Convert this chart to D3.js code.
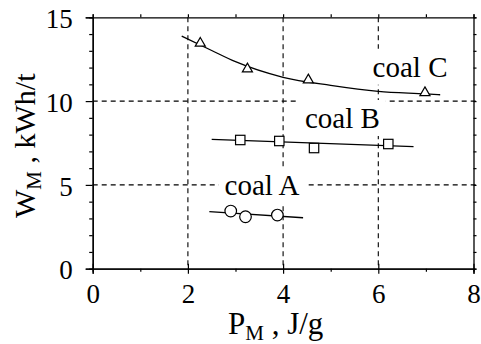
<!DOCTYPE html>
<html>
<head>
<meta charset="utf-8">
<script src="https://cdn.jsdelivr.net/npm/d3@7"></script>
<style>
  html, body { margin: 0; padding: 0; background: #fff; }
  svg { display: block; }
  svg text { font-family: "Liberation Serif", "Times New Roman", serif; fill: #000; }
</style>
</head>
<body>
<svg id="chart" width="481" height="344"></svg>
<script>
// Grinding energy W_M versus specific power P_M for three coals
const xTicks = [0, 2, 4, 6, 8];
const yTicks = [0, 5, 10, 15];
const xGrid = [2, 4, 6];
const yGrid = [5, 10];

// measured points
const coalA_P = [2.90, 3.21, 3.88];
const coalA_W = [3.44, 3.10, 3.20];
const coalB_P = [3.10, 3.92, 4.65, 6.21];
const coalB_W = [7.68, 7.62, 7.20, 7.44];
const coalC_P = [2.26, 3.25, 4.53, 6.98];
const coalC_W = [13.45, 11.92, 11.26, 10.50];

// fitted trend lines
const fitA_P = [2.45, 4.42];
const fitA_W = [3.40, 3.04];
const fitB_P = [2.50, 6.74];
const fitB_W = [7.72, 7.28];
const fitC_P = [1.87, 2.5, 3, 4, 5, 6, 7, 7.3];
const fitC_W = [13.88, 13.02, 12.35, 11.42, 10.94, 10.58, 10.43, 10.38];

const labels = ["coal A", "coal B", "coal C"];
const labelP = [2.77, 4.46, 5.88];
const labelW = [4.397, 8.395, 11.453];

const FONT = "Liberation Serif";
const svg = d3.select("#chart").attr("font-family", FONT);
const x = d3.scaleLinear().domain([0, 8]).range([92.7, 473.5]);
const y = d3.scaleLinear().domain([0, 15]).range([268.7, 17.3]);

// dashed grid
const grid = svg.append("g").attr("stroke", "#000").attr("stroke-width", 1.1)
  .attr("stroke-dasharray", "5,4").attr("fill", "none");
grid.selectAll("line.h").data(yGrid).join("line").attr("class", "h")
  .attr("x1", x(0)).attr("x2", x(8) + 5).attr("y1", d => y(d)).attr("y2", d => y(d));
grid.selectAll("line.v").data(xGrid).join("line").attr("class", "v")
  .attr("x1", d => x(d)).attr("x2", d => x(d)).attr("y1", y(15)).attr("y2", y(0));

// series labels on white boxes
const lab = svg.append("g");
labels.forEach((t, i) => {
  const g = lab.append("g");
  const rect = g.append("rect").attr("fill", "#fff");
  const txt = g.append("text").attr("x", x(labelP[i])).attr("y", y(labelW[i]))
    .attr("font-family", FONT).attr("font-size", 29).text(t);
  const b = txt.node().getBBox();
  rect.attr("x", b.x - 6).attr("y", b.y - 2).attr("width", b.width + 12).attr("height", b.height + 4);
});

// trend lines
const line = d3.line().x(d => x(d[0])).y(d => y(d[1]));
const curveLine = d3.line().x(d => x(d[0])).y(d => y(d[1])).curve(d3.curveMonotoneX);
const zip = (a, b) => a.map((v, i) => [v, b[i]]);
const lines = svg.append("g").attr("fill", "none").attr("stroke", "#000").attr("stroke-width", 1.3);
lines.append("path").attr("d", line(zip(fitA_P, fitA_W)));
lines.append("path").attr("d", line(zip(fitB_P, fitB_W)));
lines.append("path").attr("d", curveLine(zip(fitC_P, fitC_W)));

// markers
const marks = svg.append("g").attr("fill", "#fff").attr("stroke", "#000").attr("stroke-width", 1.2);
marks.selectAll("circle").data(zip(coalA_P, coalA_W)).join("circle")
  .attr("cx", d => x(d[0])).attr("cy", d => y(d[1])).attr("r", 5.8);
marks.selectAll("rect").data(zip(coalB_P, coalB_W)).join("rect")
  .attr("x", d => x(d[0]) - 4.7).attr("y", d => y(d[1]) - 4.7).attr("width", 9.4).attr("height", 9.4);
const tri = d3.symbol().type(d3.symbolTriangle).size(44);
marks.selectAll("path").data(zip(coalC_P, coalC_W)).join("path")
  .attr("transform", d => `translate(${x(d[0])},${y(d[1])})`).attr("d", tri);

// axes
const minorX = d3.range(0, 9).filter(v => !xTicks.includes(v));
const minorY = d3.range(0, 16).filter(v => !yTicks.includes(v));

function styleAxis(g) {
  g.attr("font-family", FONT);
  g.selectAll("path.domain").attr("stroke-width", 1.3);
  g.selectAll(".tick line").attr("stroke-width", 1.2);
}

const bottom = svg.append("g").attr("transform", `translate(0,${y(0)})`)
  .call(d3.axisBottom(x).tickValues(xTicks).tickSizeOuter(0).tickSize(5).tickPadding(10))
  .call(styleAxis);
bottom.selectAll(".tick line").attr("y1", -5);
bottom.selectAll(".tick text").attr("font-size", 27).attr("font-family", FONT);
svg.append("g").attr("transform", `translate(0,${y(0)})`)
  .call(d3.axisBottom(x).tickValues(minorX).tickSizeOuter(0).tickSize(3).tickFormat(""))
  .call(styleAxis);

const left = svg.append("g").attr("transform", `translate(${x(0)},0)`)
  .call(d3.axisLeft(y).tickValues(yTicks).tickSizeOuter(0).tickSize(7).tickPadding(13))
  .call(styleAxis);
left.selectAll(".tick text").attr("font-size", 27).attr("font-family", FONT).attr("dy", "0.38em");
svg.append("g").attr("transform", `translate(${x(0)},0)`)
  .call(d3.axisLeft(y).tickValues(minorY).tickSizeOuter(0).tickSize(3.5).tickFormat(""))
  .call(styleAxis);

svg.append("g").attr("transform", `translate(0,${y(15)})`)
  .call(d3.axisTop(x).tickValues(d3.range(0, 9)).tickSizeOuter(0).tickSize(3).tickFormat(""))
  .call(styleAxis);
svg.append("g").attr("transform", `translate(${x(8)},0)`)
  .call(d3.axisRight(y).tickValues(d3.range(0, 16)).tickSizeOuter(0).tickSize(3).tickFormat(""))
  .call(styleAxis);

svg.selectAll(".domain, .tick line").attr("stroke", "#000");
svg.selectAll(".tick text").attr("fill", "#000");

// axis titles
const xt = svg.append("text").attr("x", 228).attr("y", 334)
  .attr("font-family", FONT).attr("font-size", 31);
xt.append("tspan").text("P");
xt.append("tspan").attr("font-size", 21).attr("dy", 6).text("M");
xt.append("tspan").attr("dy", -6).text(" , J/g");

const yt = svg.append("text").attr("transform", "translate(35,218) rotate(-90)")
  .attr("font-family", FONT).attr("font-size", 30);
yt.append("tspan").text("W");
yt.append("tspan").attr("font-size", 21).attr("dy", 6).text("M");
yt.append("tspan").attr("dy", -6).text(" , kWh/t");
</script>
</body>
</html>
